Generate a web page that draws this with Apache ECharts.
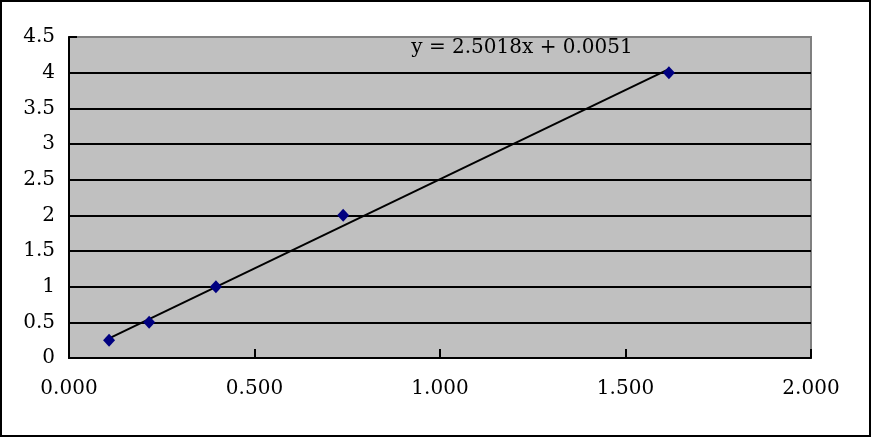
<!DOCTYPE html>
<html><head><meta charset="utf-8">
<script src="https://cdn.jsdelivr.net/npm/echarts@6/dist/echarts.min.js"></script>
<style>html,body{margin:0;padding:0;background:#fff}#c{width:872px;height:438px}</style>
</head><body><div id="c"></div>
<script>
var xValues = [0.108, 0.216, 0.396, 0.739, 1.617];
var yValues = [0.25, 0.5, 1, 2, 4];
var trendSlope = 2.5018;
var trendIntercept = 0.0051;
var trendLabel = 'y = 2.5018x + 0.0051';

var pts = xValues.map(function(x, i){ return [x, yValues[i]]; });
var xMin = Math.min.apply(null, xValues), xMax = Math.max.apply(null, xValues);
var trend = [[xMin, trendSlope * xMin + trendIntercept], [xMax, trendSlope * xMax + trendIntercept]];
var font = 'DejaVu Serif';
var gridColors = ['#000','#000','#000','#000','#000','#000','#000','#000','#000','#808080'];

var chart = echarts.init(document.getElementById('c'), null, {renderer: 'canvas'});
chart.setOption({
  animation: false,
  backgroundColor: '#fff',
  graphic: [
    {type: 'rect', shape: {x: 1, y: 1, width: 869, height: 435}, style: {fill: 'none', stroke: '#000', lineWidth: 2}, z: 100},
    {type: 'text', x: 522, y: 48, style: {text: trendLabel, font: '20px "DejaVu Serif"', fill: '#000', align: 'center', verticalAlign: 'middle'}, z: 50}
  ],
  grid: {left: 69, top: 37, right: 61, bottom: 80, show: true, backgroundColor: '#C0C0C0', borderColor: '#808080', borderWidth: 2},
  xAxis: {
    type: 'value', min: 0, max: 2, interval: 0.5,
    axisLine: {show: true, onZero: false, lineStyle: {color: '#000', width: 2}},
    axisTick: {show: true, inside: true, length: 9, lineStyle: {color: '#000', width: 2}},
    splitLine: {show: false},
    axisLabel: {margin: 21, color: '#000', fontFamily: font, fontSize: 20, formatter: function(v){ return v.toFixed(3); }}
  },
  yAxis: {
    type: 'value', min: 0, max: 4.5, interval: 0.5,
    axisLine: {show: true, onZero: false, lineStyle: {color: '#000', width: 2}},
    axisTick: {show: true, inside: true, length: 8, lineStyle: {color: '#000', width: 2}},
    splitLine: {show: true, lineStyle: {color: gridColors, width: 2}},
    axisLabel: {margin: 14, color: '#000', fontFamily: font, fontSize: 20}
  },
  series: [
    {type: 'line', data: trend, symbol: 'none', lineStyle: {color: '#000', width: 2}, z: 3},
    {type: 'scatter', data: pts, symbol: 'diamond', symbolSize: [12, 13], itemStyle: {color: '#000080', opacity: 1}, z: 4}
  ]
});
</script></body></html>
